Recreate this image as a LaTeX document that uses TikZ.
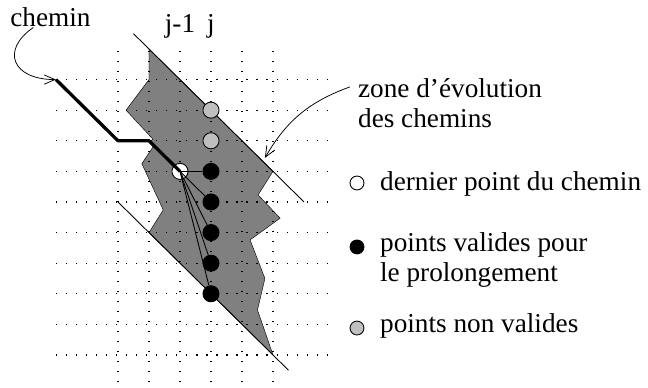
\documentclass[tikz,border=0pt]{standalone}
\usepackage{fontspec}
\setmainfont{Liberation Serif}
\usetikzlibrary{arrows.meta}
\begin{document}
\begin{tikzpicture}[x=1cm,y=0.987cm,font=\rmfamily\fontsize{25}{27.5}\selectfont,line join=round,
		>={Straight Barb[length=3.5mm,width=3mm]},
		grille/.style={line width=1.2pt,dash pattern=on 1.1pt off 8.1pt},
		pt/.style={circle,draw,line width=0.8pt,inner sep=0pt,minimum size=0.52cm},
		legende/.style={pt,minimum size=0.45cm},
		texte/.style={anchor=base west,inner sep=0pt,align=left}]
			\useasboundingbox (-3.806,-1.078) rectangle (17.097,11.601);
			
			% zone d'evolution
			\filldraw[fill=black!50,line width=0.4pt] (1,10) -- (1,9) -- (0.26,8) -- (1.13,7.05) -- (1.02,6.97) -- (1.17,6.86) -- (0.77,6.25) -- (1.46,4.74) -- (1,4) -- (5,0) -- (4.5,1.47) -- (4.74,2.5) -- (4.26,3.76) -- (5.23,4.47) -- (4.52,5.23) -- (5,6) -- cycle;
			
			\foreach \c in {0,...,5} \draw[grille] (\c,-0.9) -- (\c,10.2);
			\foreach \r in {0,...,9} \draw[grille] (-2,\r) -- (7,\r);
			
			\draw[line width=0.8pt] (0.5,10.5) -- (6,5);
			\draw[line width=0.8pt] (0,5) -- (5.5,-0.5);
			
			\path (2,10.55) node[anchor=base] (jm) {j-1};
			\path (3,10.55) node[anchor=base] (jj) {j};
			
			\node[pt,fill=white] (dernier) at (2,6) {};
			\node[pt,fill=black!25] (nv8) at (3,8) {};
			\node[pt,fill=black!25] (nv7) at (3,7) {};
			\foreach \r in {2,...,6} \node[pt,fill=black] (v\r) at (3,\r) {};
			
			% chemin
			\coordinate (depart) at (-2,9);
			\draw[line width=3pt] (depart) -- (0,7) -- (1,7) -- (dernier.center);
			\foreach \r in {2,...,6} \draw[line width=0.8pt] (dernier.center) -- (v\r);
			
			\node[texte] (lchemin) at (-3.48,10.72) {chemin};
			\draw[->,line width=0.7pt] ([xshift=-0.55cm]lchemin.south) .. controls (-3.8,9.95) and (-3.4,9) .. (depart);
			
			\node[texte] (zone) at (7.74,7.45) {zone d'évolution\\des chemins};
			\coordinate (bord) at (4.74,6.44);
			\draw[->,line width=0.7pt] (7.48,8.76) to[out=200,in=60] (bord);
			
			% legende
			\node[legende,fill=white] (ldernier) at (7.71,5.62) {};
			\node[texte] (tdernier) at (8.45,5.36) {dernier point du chemin};
			\node[legende,fill=black] (lvalide) at (7.71,3.53) {};
			\node[texte] (tvalide) at (8.45,2.39) {points valides pour\\le prolongement};
			\node[legende,fill=black!25] (lnonval) at (7.71,0.88) {};
			\node[texte] (tnonval) at (8.45,0.72) {points non valides};
		\end{tikzpicture}
\end{document}
